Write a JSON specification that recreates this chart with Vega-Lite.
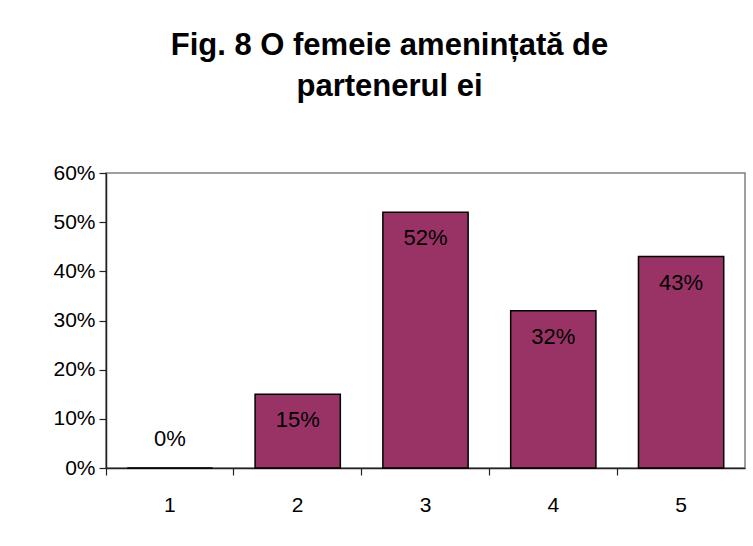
{
  "$schema": "https://vega.github.io/schema/vega-lite/v6.json",
  "autosize": "none",
  "width": 639,
  "height": 295,
  "padding": {"left": 106, "top": 173, "right": 8, "bottom": 78},
  "background": "white",
  "title": {
    "text": ["Fig. 8 O femeie amenințată de", "partenerul ei"],
    "font": "Liberation Sans",
    "fontWeight": "bold",
    "fontSize": 31,
    "lineHeight": 41,
    "color": "black",
    "anchor": "middle",
    "frame": "group",
    "baseline": "alphabetic",
    "dx": -36,
    "offset": 35
  },
  "config": {
    "view": {"stroke": "#808080", "strokeWidth": 1.5},
    "axis": {
      "labelFont": "Liberation Sans",
      "labelFontSize": 21,
      "labelColor": "black",
      "domainColor": "#222222",
      "domainWidth": 1.5,
      "tickColor": "#222222",
      "tickWidth": 1.2,
      "tickSize": 7,
      "grid": false,
      "title": null
    }
  },
  "data": {
    "values": [
      {"cat": "1", "v": 0.0},
      {"cat": "2", "v": 0.15},
      {"cat": "3", "v": 0.52},
      {"cat": "4", "v": 0.32},
      {"cat": "5", "v": 0.43}
    ]
  },
  "encoding": {
    "x": {
      "field": "cat",
      "type": "ordinal",
      "scale": {"paddingInner": 0, "paddingOuter": 0},
      "axis": {"labelAngle": 0, "bandPosition": 0, "labelPadding": 30, "labelBaseline": "middle"}
    },
    "y": {
      "field": "v",
      "type": "quantitative",
      "scale": {"domain": [0, 0.6]},
      "axis": {"format": ".0%", "values": [0, 0.1, 0.2, 0.3, 0.4, 0.5, 0.6], "labelPadding": 4}
    }
  },
  "layer": [
    {
      "mark": {"type": "bar", "fill": "#993366", "stroke": "black", "strokeWidth": 1.5, "width": {"band": 0.667}}
    },
    {
      "transform": [{"filter": "datum.v > 0"}],
      "mark": {"type": "text", "font": "Liberation Sans", "fontSize": 22, "color": "black", "baseline": "middle", "dy": 26},
      "encoding": {"text": {"field": "v", "type": "quantitative", "format": ".0%"}}
    },
    {
      "transform": [{"filter": "datum.v == 0"}],
      "mark": {"type": "text", "font": "Liberation Sans", "fontSize": 22, "color": "black", "baseline": "middle", "dy": -29},
      "encoding": {"text": {"field": "v", "type": "quantitative", "format": ".0%"}}
    }
  ]
}
